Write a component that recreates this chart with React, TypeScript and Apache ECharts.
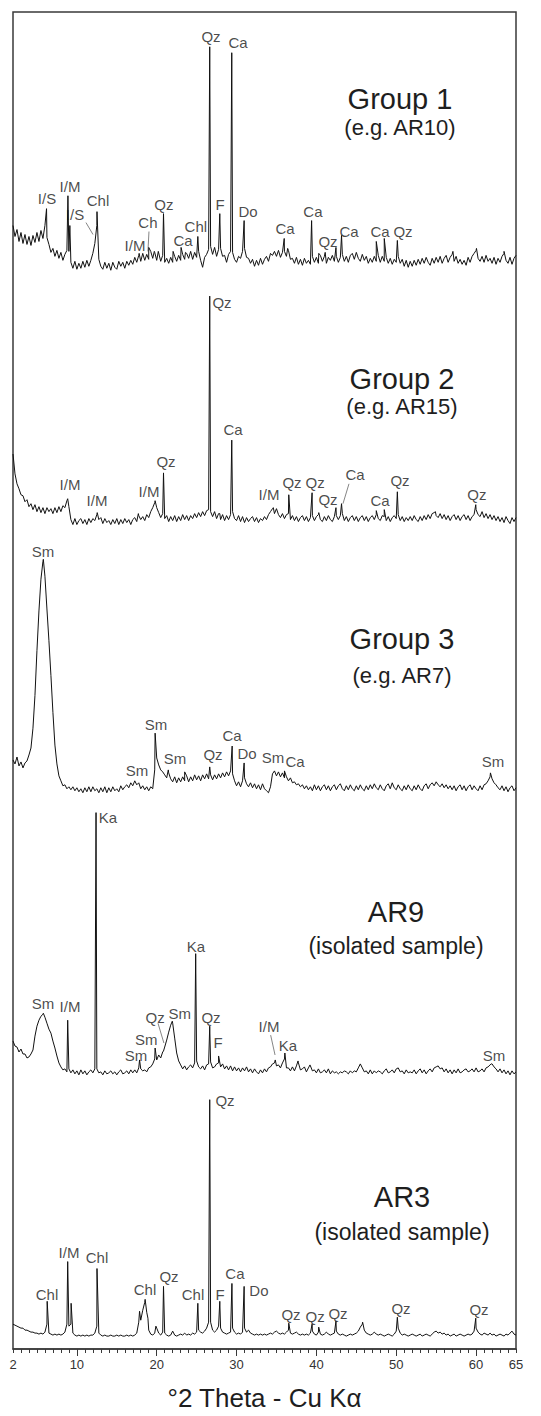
import React, { useEffect, useRef } from "react";
import * as echarts from "echarts";

// 2θ sampling of the baseline arrays: 2.00, 2.25, ..., 65.00
const THETA_START = 2;
const THETA_STEP = 0.25;

// ---------- Group 1 (e.g. AR10) ----------
const G1_BASE = [
  40, 29, 36, 24, 33, 22, 31, 21, 29, 20, 30, 23, 33, 24, 35, 27, 40, 28, 21, 13,
  17, 9, 15, 7, 13, 5, 11, 15, 14, 3, -3, 4, -4, 2, -3, 4, -2, 5, -1, 5,
  12, 22, 40, 6, -1, -4, 3, -3, 2, -5, 3, -2, -4, 4, -1, 3, -3, 4, 0, 5,
  1, 8, 3, 10, 4, 12, 5, 11, 6, 14, 7, 13, 5, 14, 4, 10, 3, 7, 2, 8,
  3, 9, 4, 10, 5, 11, 6, 12, 7, 14, 6, 13, 8, 14, 5, -2, 8, 11, 16, 19,
  11, 18, 9, 16, 17, 9, 10, 3, 11, 14, 13, 6, 3, 9, 7, 14, 17, 8, 7, 2,
  6, -1, 5, 0, 7, 1, 6, 9, 4, 12, 10, 14, 9, 15, 8, 13, 14, 9, 15, 6,
  7, 2, 8, 1, 6, 0, 7, 2, 5, 1, 9, 3, 8, 2, 10, 4, 9, 2, 8, 5,
  10, 4, 9, 3, 8, 11, 4, 9, 3, 10, 12, 6, 13, 7, 4, 11, 5, 9, 2, 7,
  3, 9, 4, 10, 3, 9, 4, 8, 2, 7, 1, 6, 3, 9, 2, 6, -1, 5, -2, 4,
  -1, 5, 0, 6, 1, 7, 2, 8, 3, 0, 7, 2, 8, 3, 9, 2, 7, 10, 3, 8,
  11, 4, 9, 2, 6, 1, 5, 0, 8, 3, 9, 12, 15, 7, 4, 9, 3, 10, 4, 7,
  2, 8, 1, 7, 3, 9, 12, 5, 2, 8, 1, 7, 10,
];
const G1_PEAKS = [
  [6.2, 57], [8.88, 70], [9.12, 40], [12.52, 54], [17.8, 12], [19.0, 18], [19.7, 14],
  [20.2, 14], [20.85, 52], [22.05, 14], [23.05, 18], [23.6, 13], [25.15, 29], [26.64, 220],
  [27.9, 52], [29.4, 214], [30.95, 45], [35.97, 27], [36.4, 17], [39.4, 45], [40.3, 12],
  [41.1, 13], [42.45, 18], [43.15, 30], [47.5, 24], [48.5, 27], [50.14, 25], [57.1, 14],
  [60.05, 17], [63.5, 14],
];
const G1_LABELS = [
  ["I/S", 6.26, 67], ["I/M", 9.14, 79], ["I/S", 9.77, 51], ["Chl", 12.65, 65], ["I/M", 17.28, 20],
  ["Ch", 18.9, 43], ["Qz", 20.9, 61], ["Ca", 23.3, 25], ["Chl", 24.9, 39], ["Qz", 26.8, 230],
  ["F", 27.93, 61], ["Ca", 30.18, 224], ["Do", 31.43, 54], ["Ca", 36.07, 37], ["Ca", 39.57, 54],
  ["Qz", 41.45, 24], ["Ca", 44.08, 34], ["Ca", 47.97, 34], ["Qz", 50.85, 34],
];
const G1_POINTERS = [[11.14, 43, 12.02, 31], [19.03, 34, 18.9, 14]];

// ---------- Group 2 (e.g. AR15) ----------
const G2_BASE = [
  68, 48, 38, 33, 27, 26, 20, 22, 15, 18, 12, 17, 10, 15, 9, 14, 8, 14, 10, 13,
  8, 14, 9, 15, 10, 16, 14, 21, 15, 2, -3, 3, -3, 1, 3, -2, 2, -3, 3, -1,
  3, 1, 7, 2, 4, -2, 3, -1, 1, -3, 2, -2, 3, -3, 2, -2, 3, -1, 2, -3,
  2, 4, 0, 6, 2, 5, 1, 7, 4, 10, 14, 19, 14, 9, 4, 8, 3, 6, 0, 5,
  1, 6, 0, 5, 1, 7, 2, 6, 1, 6, 3, 8, 4, 9, 5, 10, 6, 11, 12, 10,
  5, 10, 3, 8, 2, 7, 1, 6, 2, 7, 10, 3, 1, 6, 0, 5, -1, 4, 0, 3,
  5, 0, 4, -1, 3, 1, 5, 2, 7, 10, 13, 8, 13, 7, 4, 8, 3, 7, 8, 2,
  6, 1, 5, 0, 4, 6, 1, 5, 0, 4, 6, 1, 5, 7, 2, 0, 5, 1, 6, 2,
  0, 5, 6, 2, 6, 8, 1, 5, 0, 4, 6, 1, 5, 0, 4, 6, 1, 5, 0, 4,
  6, 2, 7, 3, 1, 6, 5, 1, 5, 0, 4, 6, 3, 7, 1, 5, 0, 4, 1, 5,
  1, 6, 2, 0, 5, 1, 6, 2, 7, 3, 8, 9, 6, 4, 8, 3, 7, 2, 6, 1,
  5, 7, 2, 6, 1, 5, 7, 2, 6, 1, 5, 7, 12, 7, 5, 10, 4, 8, 3, 7,
  2, 6, 1, 5, 0, 4, -1, 5, 1, -2, 4, 0, 4,
];
const G2_PEAKS = [
  [8.85, 23], [12.55, 9], [17.7, 8], [19.8, 21], [20.85, 49], [26.64, 227], [27.9, 8],
  [29.4, 82], [34.6, 14], [36.54, 27], [39.46, 29], [40.3, 9], [42.45, 14], [43.15, 18],
  [47.5, 11], [48.5, 12], [50.14, 30], [54.9, 10], [59.96, 17],
];
const G2_LABELS = [
  ["I/M", 9.14, 37], ["I/M", 12.52, 21], ["I/M", 19.03, 30], ["Qz", 21.16, 60], ["Qz", 28.18, 221],
  ["Ca", 29.56, 93], ["I/M", 34.06, 27], ["Qz", 36.94, 39], ["Qz", 39.83, 39], ["Qz", 41.45, 22],
  ["Ca", 44.84, 47], ["Ca", 47.97, 21], ["Qz", 50.47, 41], ["Qz", 60.1, 27],
];
const G2_POINTERS = [[44.08, 38, 43.33, 18]];

// ---------- Group 3 (e.g. AR7) ----------
const G3_BASE = [
  30, 26, 33, 24, 28, 22, 27, 29, 35, 42, 62, 95, 140, 180, 212, 230, 215, 182, 150, 115,
  78, 45, 26, 14, 9, 4, 5, 1, 3, 0, 3, -1, 2, -2, 1, -3, 2, -2, 3, -2,
  3, -1, 1, -3, 2, -2, 3, -3, 2, -2, 3, -1, 1, -2, 4, 0, 3, 5, 2, 7,
  4, 9, 5, 7, 1, 4, 0, 3, -1, 3, 1, 20, 32, 25, 20, 18, 15, 12, 17, 11,
  8, 13, 7, 12, 8, 13, 9, 14, 8, 13, 9, 15, 10, 14, 9, 15, 11, 16, 11, 15,
  10, 15, 11, 16, 12, 17, 13, 18, 14, 19, 16, 9, 4, 8, 3, 9, 12, 6, 3, 7,
  2, 6, 1, 5, 0, 6, 1, -1, -3, 3, 16, 19, 14, 18, 13, 17, 12, 13, 9, 12,
  7, 8, 5, 6, 3, 5, 1, 4, 0, 3, -1, 5, 0, 4, -1, 3, 5, 0, 4, -1,
  3, 5, 0, 4, 6, 1, -1, 4, 0, 5, 1, -1, 4, 0, 5, 1, -1, 4, 0, 5,
  1, 6, 2, 0, 5, 1, -1, 4, 6, 1, 7, 2, 0, 5, 1, -1, 4, 0, 5, 1,
  -1, 4, 0, 5, 1, -1, 4, 6, 1, 5, 7, 4, 8, 5, 3, 6, 2, 5, 1, 4,
  0, 4, -1, 3, 5, 0, 4, -1, 3, 5, 0, 4, 1, -1, 4, 0, 5, 6, 9, 13,
  11, 7, 5, 2, 0, 4, -1, 3, -2, 2, 4, -1, 2,
];
const G3_PEAKS = [
  [5.8, 232], [19.8, 57], [21.45, 20], [23.5, 18], [26.64, 23], [29.45, 44], [30.95, 27],
  [36.0, 19], [61.8, 17],
];
const G3_LABELS = [
  ["Sm", 5.76, 240], ["Sm", 17.53, 19], ["Sm", 19.9, 66], ["Sm", 22.3, 31], ["Qz", 27.05, 36],
  ["Ca", 29.43, 55], ["Do", 31.31, 37], ["Sm", 34.57, 32], ["Ca", 37.32, 28], ["Sm", 62.12, 28],
];

// ---------- AR9 (isolated sample) ----------
const G4_BASE = [
  32, 27, 26, 21, 24, 19, 19, 15, 16, 19, 23, 37, 47, 53, 57, 59, 56, 50, 44, 40,
  32, 25, 17, 10, 6, 3, 4, 1, 4, 0, 3, -1, 2, -2, 3, -1, 2, -2, 1, 3,
  0, 4, 4, 0, 1, -2, 2, -1, 0, 2, -1, 1, -2, 1, 3, -1, 0, 2, -1, 3,
  0, 3, 0, 5, 4, 2, 3, 1, 5, 6, 9, 14, 13, 18, 15, 21, 26, 33, 41, 48,
  50, 35, 20, 12, 8, 4, 7, 3, 6, 8, 5, 10, 12, 6, 4, 7, 3, 8, 9, 11,
  5, 6, 9, 10, 6, 9, 4, 7, 3, 7, 2, 6, 2, 5, 1, 5, 2, 6, 1, 4,
  0, 4, 1, -1, 3, 0, 4, 1, 5, 6, 9, 10, 7, 8, 5, 10, 14, 5, 5, 2,
  6, 2, 7, 10, 3, 4, 6, 1, 5, 7, 2, 3, 0, 4, 0, 1, 3, 0, 4, -1,
  2, 0, 1, -1, 1, 0, 2, 1, -1, 2, 0, 2, 1, 5, 9, 5, 1, 2, -1, 3,
  -1, 2, 0, 2, 1, -1, 2, 4, 0, 1, 3, 0, 4, 5, 1, 2, -1, 3, 0, 1,
  0, 3, -1, 2, 4, 0, 3, -1, 2, 4, 1, 5, 6, 7, 4, 5, 1, 4, 0, 3,
  -1, 3, 0, 4, 0, 1, 3, 4, 1, 2, 4, 1, 5, 1, 2, 4, 1, 5, 6, 8,
  9, 6, 4, 1, 4, 0, 3, -1, 2, -2, 2, -1, 1,
];
const G4_PEAKS = [
  [5.8, 60], [8.85, 53], [12.4, 262], [17.85, 13], [19.8, 25], [20.85, 22], [21.95, 52],
  [24.88, 120], [26.64, 47], [27.75, 17], [34.85, 13], [36.05, 20], [37.7, 12], [39.2, 8],
  [61.9, 9],
];
const G4_LABELS = [
  ["Ka", 13.9, 257], ["Sm", 5.76, 70], ["I/M", 9.14, 67], ["Sm", 17.4, 17], ["Sm", 18.7, 34],
  ["Qz", 19.79, 56], ["Sm", 22.9, 60], ["Ka", 24.92, 127], ["Qz", 26.8, 56], ["F", 27.68, 31],
  ["I/M", 34.06, 47], ["Ka", 36.44, 28], ["Sm", 62.25, 17],
];
const G4_POINTERS = [[20.16, 50, 20.9, 30], [34.27, 38, 34.82, 18]];

// ---------- AR3 (isolated sample) ----------
const G5_BASE = [
  12, 11, 10, 9, 8, 8, 6, 6, 5, 4, 4, 3, 3, 2, 3, 2, 4, 12, 3, 2,
  1, 2, 1, 2, 1, 2, 4, 12, 10, 12, 3, 1, 0, 1, 0, 1, 0, 1, 0, 1,
  1, 3, 10, 3, 1, 0, 1, 0, 0, 1, 0, 0, 1, 0, 1, 0, 0, 1, 0, 1,
  0, 1, 3, 14, 16, 26, 34, 24, 6, 2, 1, 3, 8, 3, 1, 4, 3, 1, 0, 1,
  5, 1, 0, 1, 2, 1, 3, 1, 2, 1, 3, 2, 4, 6, 4, 3, 5, 8, 14, 14,
  6, 4, 6, 10, 8, 4, 3, 2, 3, 4, 8, 4, 2, 3, 2, 4, 8, 4, 6, 3,
  2, 1, 2, 1, 2, 1, 2, 1, 2, 3, 2, 4, 5, 3, 2, 3, 2, 4, 6, 3,
  2, 3, 4, 2, 1, 2, 1, 2, 1, 3, 5, 2, 1, 4, 2, 1, 2, 4, 2, 1,
  2, 3, 5, 2, 1, 2, 1, 0, 1, 2, 1, 2, 3, 5, 9, 12, 6, 3, 2, 1,
  2, 4, 2, 1, 2, 1, 0, 1, 2, 1, 0, 2, 5, 8, 3, 1, 2, 1, 0, 1,
  2, 1, 0, 1, 2, 0, 1, 2, 1, 0, 2, 4, 5, 3, 4, 2, 3, 1, 2, 0,
  1, 2, 0, 1, 2, 1, 0, 1, 2, 1, 2, 5, 8, 4, 2, 1, 3, 2, 1, 3,
  1, 2, 0, 1, 2, 1, 0, 2, 1, 3, 5, 2, 1,
];
const G5_PEAKS = [
  [6.28, 35], [8.85, 75], [9.28, 33], [12.52, 68], [17.85, 25], [18.55, 37], [18.9, 18],
  [19.9, 10], [20.85, 50], [25.15, 33], [26.64, 238], [27.9, 35], [29.42, 53], [30.95, 50],
  [36.54, 13], [39.46, 12], [40.29, 9], [42.45, 15], [45.79, 14], [50.14, 19], [59.96, 18],
];
const G5_LABELS = [
  ["Qz", 28.55, 237], ["Chl", 6.26, 42], ["I/M", 9.01, 84], ["Chl", 12.52, 79], ["Chl", 18.53, 47],
  ["Qz", 21.54, 60], ["Chl", 24.55, 42], ["F", 27.93, 42], ["Ca", 29.8, 63], ["Do", 32.8, 46],
  ["Qz", 36.82, 22], ["Qz", 39.83, 20], ["Qz", 42.71, 23], ["Qz", 50.6, 28], ["Qz", 60.37, 27],
];

const SAMPLE_TITLES = [
  ["Group 1", "(e.g. AR10)"],
  ["Group 2", "(e.g. AR15)"],
  ["Group 3", "(e.g. AR7)"],
  ["AR9", "(isolated sample)"],
  ["AR3", "(isolated sample)"],
];

const X_LABEL_TICKS = [2, 10, 20, 30, 40, 50, 60, 65];
const X_MAJOR_TICKS = [10, 20, 30, 40, 50, 60];

// layout (not data): vertical stacking offsets and title positions / sizes
const OFFSETS = [1091, 833, 563, 278, 13];
const TITLE_POS = [
  [400, 99, 127, 22],
  [402, 379, 406, 22],
  [402, 639, 675, 22],
  [396, 912, 946, 23],
  [402, 1197, 1232, 23],
];

const TRACES = [
  { base: G1_BASE, peaks: G1_PEAKS, labels: G1_LABELS, pointers: G1_POINTERS },
  { base: G2_BASE, peaks: G2_PEAKS, labels: G2_LABELS, pointers: G2_POINTERS },
  { base: G3_BASE, peaks: G3_PEAKS, labels: G3_LABELS, pointers: [] as number[][] },
  { base: G4_BASE, peaks: G4_PEAKS, labels: G4_LABELS, pointers: G4_POINTERS },
  { base: G5_BASE, peaks: G5_PEAKS, labels: G5_LABELS, pointers: [] as number[][] },
];

const FONT = "'Liberation Sans', Arial, Helvetica, sans-serif";

function buildTrace(base: number[], peaks: number[][], off: number) {
  const pts: number[][] = base.map((v, i) => [THETA_START + i * THETA_STEP, v + off]);
  peaks.forEach(([t, v]) => pts.push([t, v + off]));
  pts.sort((a, b) => a[0] - b[0]);
  return pts;
}

function buildOption() {
  const series: any[] = [];
  const labelData: any[] = [];
  TRACES.forEach((tr, k) => {
    const off = OFFSETS[k];
    series.push({
      type: "line",
      data: buildTrace(tr.base, tr.peaks, off),
      showSymbol: false,
      symbol: "none",
      lineStyle: { color: "#111111", width: 1 },
      silent: true,
      z: 2,
    });
    tr.labels.forEach((l: any) => labelData.push({ name: l[0], value: [l[1], l[2] + off] }));
    tr.pointers.forEach((p) => {
      series.push({
        type: "line",
        data: [[p[0], p[1] + off], [p[2], p[3] + off]],
        showSymbol: false,
        symbol: "none",
        lineStyle: { color: "#333", width: 0.6 },
        silent: true,
        z: 2,
      });
    });
  });
  series.push({
    type: "scatter",
    data: labelData,
    symbolSize: 1,
    itemStyle: { color: "rgba(0,0,0,0)" },
    silent: true,
    z: 5,
    label: {
      show: true,
      position: "inside",
      formatter: "{b}",
      fontFamily: FONT,
      fontSize: 15,
      color: "#1a1a1a",
      align: "center",
      verticalAlign: "middle",
    },
  });

  const graphics: any[] = [];
  SAMPLE_TITLES.forEach((t, k) => {
    const [cx, y1, y2, fs] = TITLE_POS[k];
    graphics.push({
      type: "text",
      x: cx,
      y: y1,
      silent: true,
      style: { text: t[0], fontFamily: FONT, fontSize: 29, fill: "#1e1e1e", align: "center", verticalAlign: "middle" },
    });
    graphics.push({
      type: "text",
      x: cx,
      y: y2,
      silent: true,
      style: { text: t[1], fontFamily: FONT, fontSize: fs, fill: "#1e1e1e", align: "center", verticalAlign: "middle" },
    });
  });

  return {
    animation: false,
    backgroundColor: "#ffffff",
    grid: {
      left: 13,
      right: 25,
      top: 12,
      bottom: 58,
      show: true,
      borderColor: "#3a3a3a",
      borderWidth: 1.5,
      backgroundColor: "transparent",
    },
    xAxis: [
      {
        type: "value",
        min: 2,
        max: 65,
        position: "bottom",
        axisLine: { show: true, lineStyle: { color: "#3a3a3a", width: 1.5 } },
        axisTick: { show: true, customValues: X_MAJOR_TICKS, length: 7, lineStyle: { color: "#3a3a3a", width: 1 } },
        axisLabel: { show: true, customValues: X_LABEL_TICKS, margin: 9, fontFamily: FONT, fontSize: 13, color: "#333" },
        splitLine: { show: false },
        name: "°2 Theta - Cu Kα",
        nameLocation: "middle",
        nameGap: 36,
        nameTextStyle: { fontFamily: FONT, fontSize: 26, color: "#1e1e1e" },
      },
      {
        type: "value",
        min: 2,
        max: 65,
        interval: 1,
        position: "bottom",
        axisLine: { show: false },
        axisTick: { show: true, length: 4, lineStyle: { color: "#3a3a3a", width: 1 } },
        axisLabel: { show: false },
        splitLine: { show: false },
      },
    ],
    yAxis: { type: "value", min: 0, max: 1346, show: false },
    series,
    graphic: graphics,
  };
}

export default function App() {
  const ref = useRef<HTMLDivElement>(null);
  useEffect(() => {
    if (!ref.current) return;
    const chart = echarts.init(ref.current, undefined, { renderer: "svg" });
    chart.setOption(buildOption() as any);
    return () => chart.dispose();
  }, []);
  return (
    <div
      ref={ref}
      style={{ position: "fixed", left: 0, top: 0, width: 541, height: 1416, background: "#fff" }}
    />
  );
}
